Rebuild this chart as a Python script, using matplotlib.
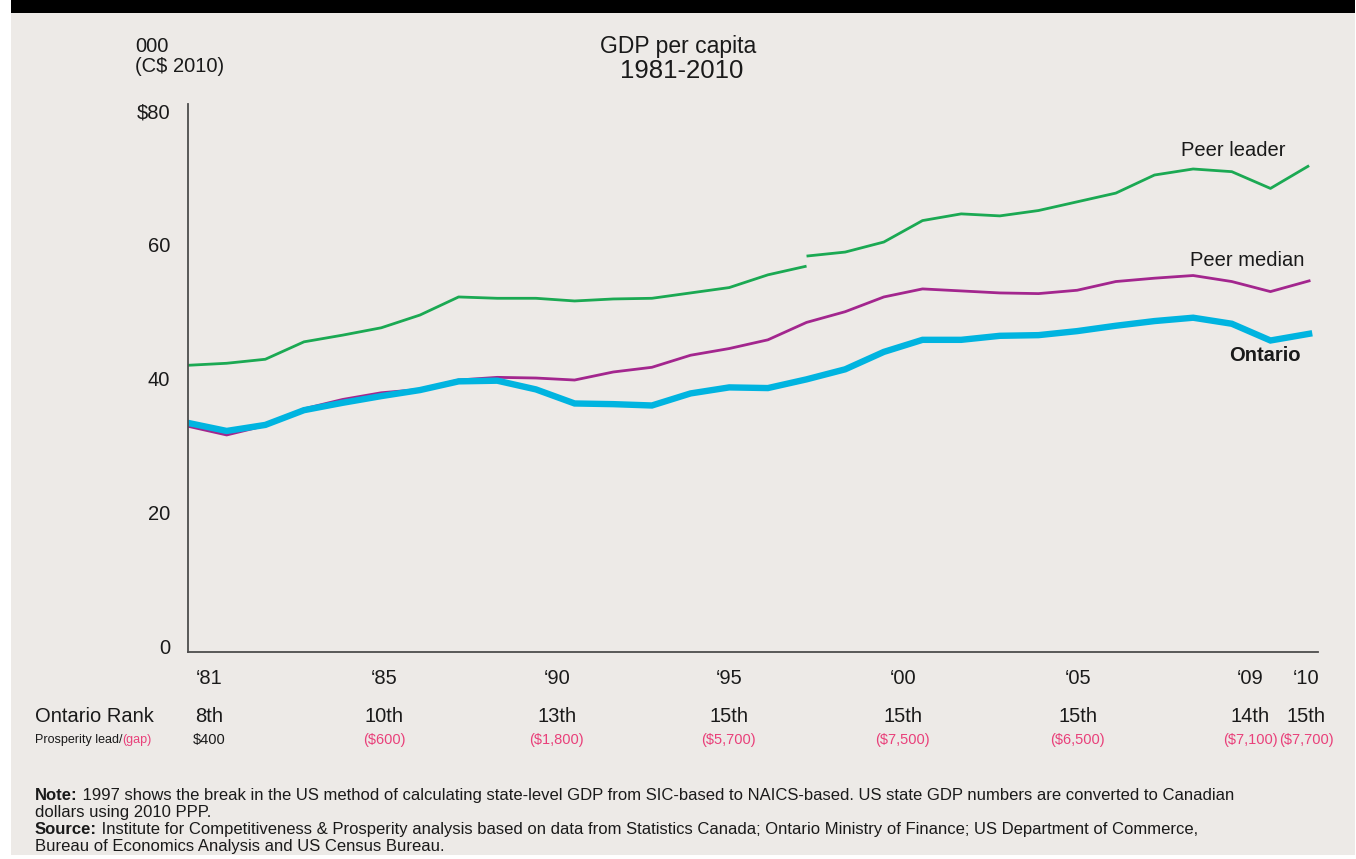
import numpy as np
import matplotlib
matplotlib.use("Agg")
from matplotlib import pyplot as plt
from matplotlib import transforms
from matplotlib.patches import Rectangle

plt.rcParams['font.family'] = ['Liberation Sans', 'DejaVu Sans']

# GDP per capita, thousands of C$ 2010
years = list(range(1981, 2011))
ontario = [33.4, 32.2, 33.1, 35.3, 36.4, 37.4, 38.3, 39.6, 39.7, 38.4,
           36.3, 36.2, 36.0, 37.8, 38.7, 38.6, 39.9, 41.4, 44.0, 45.8,
           45.8, 46.4, 46.5, 47.1, 47.9, 48.6, 49.1, 48.2, 45.7, 46.7]
peer_median = [32.9, 31.6, 33.0, 35.5, 36.9, 37.9, 38.4, 39.8, 40.2, 40.1,
               39.8, 41.0, 41.7, 43.5, 44.5, 45.8, 48.4, 50.0, 52.2, 53.4,
               53.1, 52.8, 52.7, 53.2, 54.5, 55.0, 55.4, 54.5, 53.0, 54.6]
# peer leader is split at 1997 (SIC -> NAICS break in US state GDP)
leader_years_sic = list(range(1981, 1998))
leader_sic = [42.0, 42.3, 42.9, 45.5, 46.5, 47.6, 49.5, 52.2, 52.0, 52.0,
              51.6, 51.9, 52.0, 52.8, 53.6, 55.5, 56.8]
leader_years_naics = list(range(1997, 2011))
leader_naics = [58.3, 58.9, 60.4, 63.6, 64.6, 64.3, 65.1, 66.4, 67.7, 70.4,
                71.3, 70.9, 68.4, 71.8]

# bottom table: year labels, Ontario's rank and prosperity lead/(gap)
label_pos = [1981.54, 1986.07, 1990.54, 1994.99, 1999.49, 2004.02, 2008.47, 2009.92]
year_labels = ['\u201881', '\u201885', '\u201890', '\u201895', '\u201800', '\u201805', '\u201809', '\u201810']
ranks = ['8th', '10th', '13th', '15th', '15th', '15th', '14th', '15th']
lead_gap = [400, -600, -1800, -5700, -7500, -6500, -7100, -7700]

y_ticks = [0, 20, 40, 60, 80]
y_labels = ['0', '20', '40', '60', '$80']

bg = '#EDEAE7'
green = '#1BA953'
magenta = '#A3268E'
cyan = '#00B4E0'
pink = '#E9407A'
ink = '#1A1A1A'

fig = plt.figure(figsize=(13.56, 8.59), dpi=100)
fig.patch.set_facecolor('white')
W, H = 1356.0, 859.0
fig.patches.append(Rectangle((11 / W, 4 / H), 1344 / W, 842 / H, transform=fig.transFigure,
                             facecolor=bg, edgecolor='none', zorder=-10))
fig.patches.append(Rectangle((11 / W, 1 - 13 / H), 1344 / W, 13 / H, transform=fig.transFigure,
                             facecolor='black', edgecolor='none', zorder=-10))

ax = fig.add_axes([188 / W, 1 - 651.7 / H, 1130 / W, 547.7 / H])
ax.set_facecolor('none')

ax.plot(leader_years_sic, leader_sic, color=green, lw=2.0, solid_capstyle='butt')
ax.plot(leader_years_naics, leader_naics, color=green, lw=2.0, solid_capstyle='butt')
ax.plot(years, peer_median, color=magenta, lw=2.0)
ax.plot(years, ontario, color=cyan, lw=4.6, solid_joinstyle='miter')

ax.set_xlim(1981, 2010.23)
ax.set_ylim(-0.75, 81)

for side in ['top', 'right']:
    ax.spines[side].set_visible(False)
for side in ['left', 'bottom']:
    ax.spines[side].set_color('#4D4D4D')
    ax.spines[side].set_linewidth(1.3)

ax.set_yticks(y_ticks)
ax.set_yticklabels(y_labels)
ax.set_xticks(label_pos)
ax.set_xticklabels(year_labels)
ax.tick_params(axis='y', length=0, pad=13, labelsize=14.5, labelcolor=ink)
ax.tick_params(axis='x', length=0, pad=12.5, labelsize=14.5, labelcolor=ink)

# series labels
ax.text(2008.03, 74.0, 'Peer leader', ha='center', va='center', fontsize=14.5, color=ink)
ax.text(2008.39, 57.7, 'Peer median', ha='center', va='center', fontsize=14.5, color=ink)
ax.text(2008.86, 43.4, 'Ontario', ha='center', va='center', fontsize=14.5, color=ink,
        fontweight='bold')

# titles
fig.text(0.500, 1 - 46 / H, 'GDP per capita', ha='center', va='center', fontsize=16.5, color=ink)
fig.text(0.503, 1 - 71 / H, '1981-2010', ha='center', va='center', fontsize=18.5, color=ink)
fig.text(135 / W, 1 - 46 / H, '000', ha='left', va='center', fontsize=14.5, color=ink)
fig.text(135 / W, 1 - 66 / H, '(C$ 2010)', ha='left', va='center', fontsize=14.5, color=ink)

# rank / lead rows under the axis
tr = transforms.blended_transform_factory(ax.transData, fig.transFigure)
y_rank = 1 - 717 / H
y_gap = 1 - 740 / H
fig.text(35 / W, y_rank, 'Ontario Rank', ha='left', va='center', fontsize=14.5, color=ink)
t = fig.text(35 / W, y_gap, 'Prosperity lead/', ha='left', va='center', fontsize=9, color=ink)
fig.add_artist(plt.Annotation('(gap)', xy=(1, 0.5), xycoords=t, ha='left', va='center',
                              fontsize=9, color=pink, annotation_clip=False))

for x, r, g in zip(label_pos, ranks, lead_gap):
    fig.text(x, y_rank, r, transform=tr, ha='center', va='center', fontsize=14.5, color=ink)
    if g >= 0:
        s, c = '${:,}'.format(g), ink
    else:
        s, c = '(${:,})'.format(-g), pink
    fig.text(x, y_gap, s, transform=tr, ha='center', va='center', fontsize=10.5, color=c)

# footnotes
note_lines = [
    ('Note:', ' 1997 shows the break in the US method of calculating state-level GDP from '
              'SIC-based to NAICS-based. US state GDP numbers are converted to Canadian'),
    ('', 'dollars using 2010 PPP.'),
    ('Source:', ' Institute for Competitiveness & Prosperity analysis based on data from '
                'Statistics Canada; Ontario Ministry of Finance; US Department of Commerce,'),
    ('', 'Bureau of Economics Analysis and US Census Bureau.'),
]
for i, (head, body) in enumerate(note_lines):
    y = 1 - (800 + 17 * i) / H
    if head:
        h = fig.text(35 / W, y, head, ha='left', va='baseline', fontsize=12, color=ink,
                     fontweight='bold')
        fig.add_artist(plt.Annotation(body, xy=(1, 0), xycoords=h, ha='left', va='bottom',
                                      fontsize=12, color=ink, annotation_clip=False))
    else:
        fig.text(35 / W, y, body, ha='left', va='baseline', fontsize=12, color=ink)

fig.savefig('out.png', dpi=100, facecolor=fig.get_facecolor())
